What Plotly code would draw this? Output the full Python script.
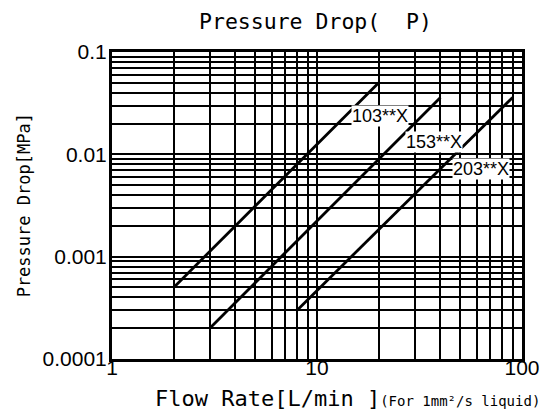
import math
import plotly.graph_objects as go

# Data
series_names = ["103**X", "153**X", "203**X"]
flow_103 = [2, 20]
drop_103 = [0.0005, 0.05]
flow_153 = [3, 40]
drop_153 = [0.0002, 0.036]
flow_203 = [8, 90]
drop_203 = [0.0003, 0.036]
label_flow = [20.3, 37.2, 63.0]
label_drop = [0.0237, 0.0132, 0.0072]

x_tickvals = [1, 10, 100]
x_ticktext = ["1", "10", "100"]
y_tickvals = [0.0001, 0.001, 0.01, 0.1]
y_ticktext = ["0.0001", "0.001", "0.01", "0.1"]

x_minor = [m * d for d in (1, 10) for m in range(2, 10)]
y_minor = [m * d for d in (0.0001, 0.001, 0.01) for m in range(2, 10)]

fig = go.Figure()
for fx, dy in [(flow_103, drop_103), (flow_153, drop_153), (flow_203, drop_203)]:
    fig.add_trace(go.Scatter(x=fx, y=dy, mode="lines",
                             line=dict(color="black", width=2.8), showlegend=False))

for name, lx, ly in zip(series_names, label_flow, label_drop):
    fig.add_annotation(x=math.log10(lx), y=math.log10(ly),
                       text=name, showarrow=False, bgcolor="white", borderpad=0,
                       font=dict(family="Liberation Sans", size=18, color="black"))

axis_common = dict(type="log", showgrid=True, gridcolor="black", gridwidth=1.8,
                   showline=True, linecolor="black", linewidth=3, mirror=True,
                   ticks="", zeroline=False,
                   tickfont=dict(family="Liberation Sans", size=21, color="black"))

fig.update_xaxes(range=[0, 2], tickmode="array", tickvals=x_tickvals, ticktext=x_ticktext,
                 minor=dict(tickmode="array", tickvals=x_minor, showgrid=True,
                            gridcolor="black", gridwidth=1.8, ticks=""),
                 ticklabelstandoff=-12, **axis_common)
fig.update_yaxes(range=[-4, -1], tickmode="array", tickvals=y_tickvals, ticktext=y_ticktext,
                 minor=dict(tickmode="array", tickvals=y_minor, showgrid=True,
                            gridcolor="black", gridwidth=1.8, ticks=""),
                 ticklabelstandoff=-2, **axis_common)

fig.add_annotation(xref="paper", yref="paper", x=0.497, y=1.0, yshift=31, yanchor="middle",
                   xanchor="center",
                   text="Pressure Drop(  P)", showarrow=False,
                   font=dict(family="DejaVu Sans Mono", size=21.5, color="black"))
fig.add_annotation(xref="paper", yref="paper", x=-0.215, y=0.5, textangle=-90,
                   xanchor="center", yanchor="middle",
                   text="Pressure Drop[MPa]", showarrow=False,
                   font=dict(family="DejaVu Sans Mono", size=17, color="black"))
fig.add_annotation(xref="paper", yref="paper", x=0.574, y=0, yshift=-39, yanchor="middle",
                   xanchor="center",
                   text="Flow Rate[L/min ]<span style='font-size:14px'>(For 1mm²/s liquid)</span>",
                   showarrow=False,
                   font=dict(family="DejaVu Sans Mono", size=22, color="black"))

# page body has an 8px default margin, so the figure is offset by (8, 8)
fig.update_layout(width=545, height=403, margin=dict(l=104, r=31, t=44, b=52),
                  plot_bgcolor="white", paper_bgcolor="white")
fig.write_html("out.html")
